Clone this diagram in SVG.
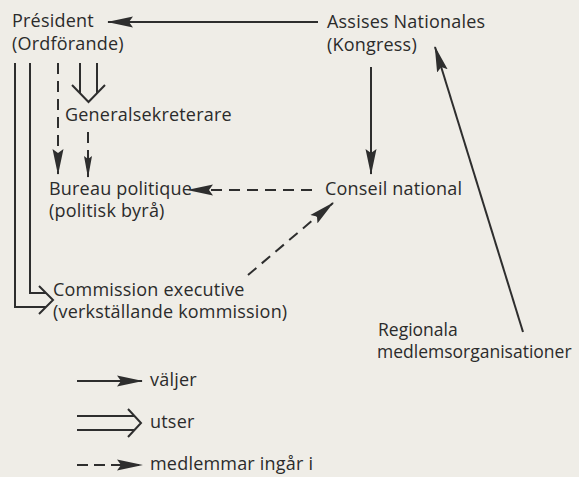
<svg xmlns="http://www.w3.org/2000/svg" width="579" height="477" viewBox="0 0 579 477">
  <style>
    .t { font-family: "Open Sans", "Liberation Sans", sans-serif; font-size: 18px; letter-spacing: 0.2px; fill: #2b2b2b; }
    .tn { font-size: 17.5px; letter-spacing: 0; }
    .ln { stroke: #2e2e2e; stroke-width: 2; fill: none; }
    .dash { stroke-dasharray: 11 7; }
  </style>
  <defs>
    <marker id="ah" viewBox="0 0 26 12" refX="25" refY="6" markerWidth="26" markerHeight="12" markerUnits="userSpaceOnUse" orient="auto">
      <path d="M0,0.5 L26,6 L0,11.5 L4,6 Z" fill="#2e2e2e"/>
    </marker>
    <marker id="ahs" viewBox="0 0 22 9" refX="21" refY="4.5" markerWidth="22" markerHeight="9" markerUnits="userSpaceOnUse" orient="auto">
      <path d="M0,0.5 L22,4.5 L0,8.5 L3,4.5 Z" fill="#2e2e2e"/>
    </marker>
  </defs>
  <rect width="579" height="477" fill="#efede7"/>

  <g id="connectors">
    <line class="ln" x1="318" y1="22" x2="108" y2="22" marker-end="url(#ah)"/>
    <line class="ln" x1="371" y1="67" x2="371" y2="174" marker-end="url(#ah)"/>
    <line class="ln" x1="523" y1="332" x2="435" y2="47" marker-end="url(#ah)"/>
    <line class="ln dash" x1="312" y1="190" x2="188" y2="190" marker-end="url(#ah)"/>
    <line class="ln dash" x1="58" y1="63" x2="58" y2="174" marker-end="url(#ah)"/>
    <line class="ln dash" x1="88" y1="132" x2="88" y2="177" marker-end="url(#ahs)"/>
    <line class="ln dash" x1="248" y1="275" x2="333" y2="203" marker-end="url(#ah)"/>
    <path class="ln" d="M80,63 V93 M97,63 V93 M72,85 L88.5,102 L105,85"/>
    <path class="ln" d="M15,63 V307 H46 M30,63 V293 H46 M39,286 L53,300 L39,314"/>
  </g>

  <g id="president"><text class="t" x="12" y="27">Président</text><text class="t" x="12" y="50">(Ordförande)</text></g>
  <g id="assises"><text class="t" x="327" y="28">Assises Nationales</text><text class="t" x="327" y="51">(Kongress)</text></g>
  <g id="generalsekreterare"><text class="t" x="65" y="121">Generalsekreterare</text></g>
  <g id="bureau"><text class="t" x="49" y="195">Bureau politique</text><text class="t" x="49" y="217">(politisk byrå)</text></g>
  <g id="conseil"><text class="t" x="325" y="195">Conseil national</text></g>
  <g id="commission"><text class="t" x="53" y="296">Commission executive</text><text class="t" x="53" y="318">(verkställande kommission)</text></g>
  <g id="regionala"><text class="t tn" x="378" y="336">Regionala</text><text class="t tn" x="377" y="358">medlemsorganisationer</text></g>

  <g id="legend">
    <line class="ln" x1="77" y1="381" x2="142" y2="381" marker-end="url(#ah)"/>
    <text class="t" x="150" y="386">väljer</text>
    <path class="ln" d="M77,416 H135 M77,430 H135 M128,409 L141,423 L128,437"/>
    <text class="t" x="150" y="428">utser</text>
    <line class="ln" x1="77" y1="465" x2="142" y2="465" stroke-dasharray="11 6" marker-end="url(#ah)"/>
    <text class="t" x="150" y="470">medlemmar ingår i</text>
  </g>
</svg>
